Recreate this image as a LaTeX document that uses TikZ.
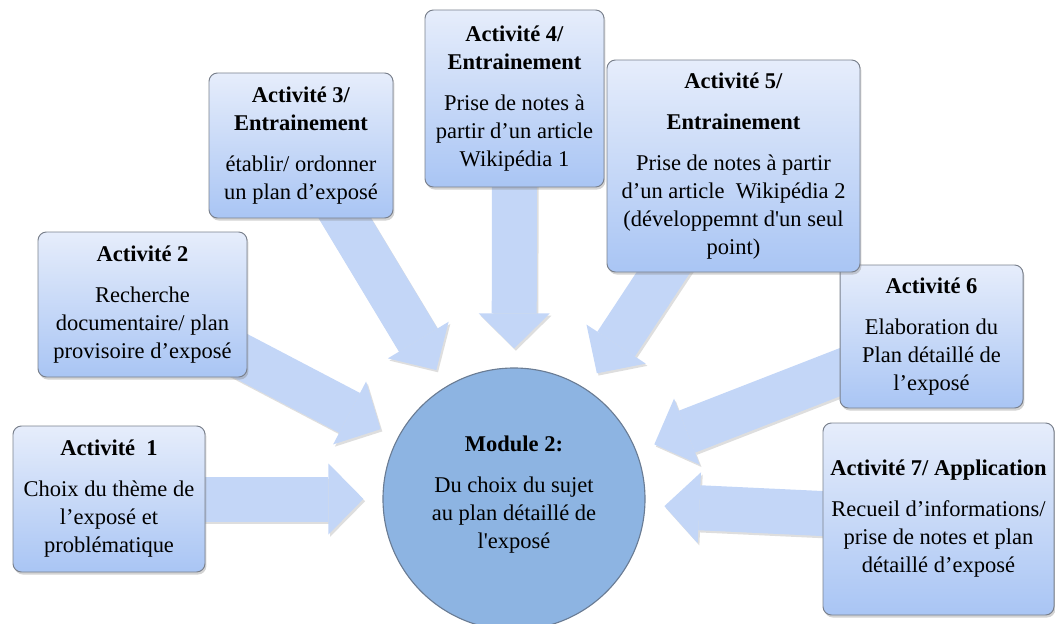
\documentclass[tikz,border=0pt]{standalone}
\usepackage{fontspec}
\setmainfont{Liberation Serif}[Ligatures=TeXOff]
\usetikzlibrary{arrows.meta,shadows,backgrounds}

\definecolor{boxtop}{HTML}{E6EDFB}
\definecolor{boxbottom}{HTML}{A9C5F4}
\definecolor{boxline}{HTML}{7A818D}
\definecolor{arrowblue}{HTML}{C3D6F7}
\definecolor{hubfill}{HTML}{8DB4E2}
\definecolor{hubline}{HTML}{6A7C94}

\begin{document}
\begin{tikzpicture}[
    every node/.style={align=center, font=\fontsize{16}{20}\selectfont},
    actbox/.style={rounded corners=6pt, draw=boxline, line width=0.7pt,
      top color=boxtop, bottom color=boxbottom, inner sep=2pt,
      drop shadow={shadow xshift=1pt, shadow yshift=-1.8pt, opacity=0.35}},
    modcircle/.style={circle, draw=hubline, line width=0.8pt, fill=hubfill,
      minimum size=6.55cm, inner sep=0pt},
    feedarrow/.style={draw=arrowblue, line width=1.125cm,
      -{Triangle[length=0.875cm, width=1.775cm, line width=0pt]}, shorten >=0.475cm},
    feedshadow/.style={feedarrow, draw=black, transform canvas={xshift=1.2pt, yshift=-1.6pt}}
  ]
  \useasboundingbox (0,0) rectangle (26.375,15.575);

  \node[modcircle] (hub) at (12.85,3.1)
    {\textbf{Module 2:}\\[9pt] Du choix du sujet\\ au plan détaillé de\\ l'exposé\\[-11pt]\mbox{}};

  \node[actbox, minimum width=4.8cm, minimum height=3.65cm] (act1) at (2.725,3.1)
    {\textbf{Activité\ \ 1}\\[9pt] Choix du thème de\\ l’exposé et\\ problématique};
  \node[actbox, minimum width=5.225cm, minimum height=3.625cm] (act2) at (3.5625,7.9625)
    {\textbf{Activité 2}\\[9pt] Recherche\\ documentaire/ plan\\ provisoire d’exposé};
  \node[actbox, minimum width=4.6cm, minimum height=3.625cm] (act3) at (7.525,11.9375)
    {\textbf{Activité 3/}\\ \textbf{Entrainement}\\[9pt] établir/ ordonner\\ un plan d’exposé};
  \node[actbox, minimum width=4.475cm, minimum height=4.425cm] (act4) at (12.8625,13.1125)
    {\textbf{Activité 4/}\\ \textbf{Entrainement}\\[9pt] Prise de notes à\\ partir d’un article\\ Wikipédia 1};
  \node[actbox, minimum width=4.575cm, minimum height=3.575cm] (act6) at (23.2875,7.1625)
    {\textbf{Activité 6}\\[9pt] Elaboration du\\ Plan détaillé de\\ l’exposé};
  \node[actbox, minimum width=6.325cm, minimum height=5.3cm] (act5) at (18.3375,11.425)
    {\textbf{Activité 5/}\\[9pt] \textbf{Entrainement}\\[9pt] Prise de notes à partir\\
     d’un article\ \ Wikipédia 2\\ (développemnt d'un seul\\ point)};
  \node[actbox, minimum width=5.775cm, minimum height=4.8cm] (act7) at (23.4625,2.6)
    {\textbf{Activité 7/ Application}\\[9pt] Recueil d’informations/\\
     prise de notes et plan\\ détaillé d’exposé};

  % block arrows towards the module
  \begin{scope}[on background layer]
    \begin{scope}[transparency group, opacity=0.13]
      \foreach \src in {act1,act2,act3,act4,act5,act6,act7}
        \draw[feedshadow] (\src.center) -- (hub);
    \end{scope}
    \foreach \src in {act1,act2,act3,act4,act5,act6,act7}
      \draw[feedarrow] (\src.center) -- (hub);
  \end{scope}
\end{tikzpicture}
\end{document}
